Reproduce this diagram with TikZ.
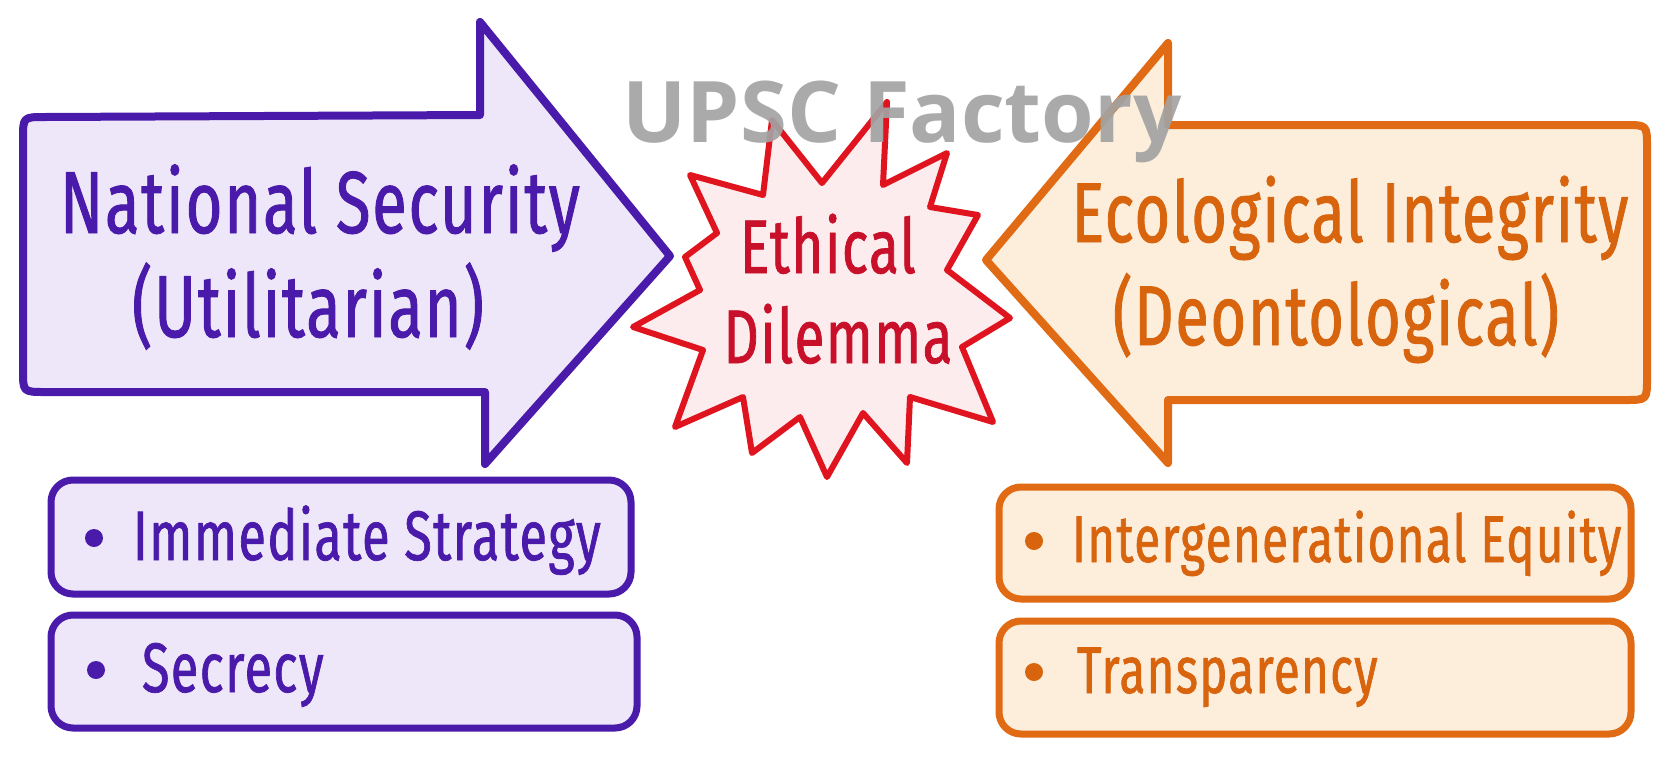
\documentclass[tikz,border=0pt]{standalone}
\usepackage{fontspec}
\newfontfamily\hand{Fira Sans}[FakeStretch=0.72, FakeBold=1.0, LetterSpace=2]
\newfontfamily\wmfont{Open Sans}
\definecolor{pstroke}{HTML}{4A1AAA}
\definecolor{pfill}{HTML}{EEE7FA}
\definecolor{ostroke}{HTML}{E06B14}
\definecolor{ofill}{HTML}{FDEEDC}
\definecolor{otext}{HTML}{D8640E}
\definecolor{rstroke}{HTML}{E0141E}
\definecolor{rfill}{HTML}{FCECEE}
\definecolor{rtext}{HTML}{C8102A}
\definecolor{wmgray}{HTML}{A3A3A3}
\begin{document}
\begin{tikzpicture}[x=1pt,y=-1pt,
  every node/.style={inner sep=0pt, outer sep=0pt},
  parrow/.style={draw=pstroke, fill=pfill, line width=8pt, line join=round},
  oarrow/.style={draw=ostroke, fill=ofill, line width=8pt, line join=round},
  starshape/.style={draw=rstroke, fill=rfill, line width=6pt, line join=round},
  pbox/.style={draw=pstroke, fill=pfill, line width=7pt, rounded corners=22pt},
  obox/.style={draw=ostroke, fill=ofill, line width=7pt, rounded corners=22pt},
  ptitle/.style={font=\hand\fontsize{88}{88}\selectfont, text=pstroke, anchor=base},
  otitle/.style={font=\hand\fontsize{85}{85}\selectfont, text=otext, anchor=base},
  rtitle/.style={font=\hand\fontsize{76}{76}\selectfont, text=rtext, anchor=base},
  pitem/.style={font=\hand\fontsize{70}{70}\selectfont, text=pstroke, anchor=base west},
  oitem/.style={font=\hand\fontsize{66}{66}\selectfont, text=otext, anchor=base west},
  pdot/.style={circle, fill=pstroke, minimum size=18pt},
  odot/.style={circle, fill=otext, minimum size=18pt},
  watermark/.style={font=\wmfont\bfseries\fontsize{85}{85}\selectfont, text=wmgray, anchor=base, opacity=0.92}
]
\useasboundingbox[fill=white] (0,0) rectangle (1672,756);

% left arrow
\draw[parrow] (45,117) -- (480,115) -- (480,22) -- (670,256) -- (485,464) -- (485,392)
  -- (45,392) .. controls (23,392) .. (23,370) -- (23,139) .. controls (23,117) .. (45,117) -- cycle;
% right arrow
\draw[oarrow] (1168,125) -- (1625,125) .. controls (1647,125) .. (1647,147) -- (1647,378)
  .. controls (1647,400) .. (1625,400) -- (1168,400) -- (1168,463) -- (986,260) -- (1168,43) -- cycle;

% star
\draw[starshape] (690,175) -- (763,195) -- (772,120) -- (822,183) -- (887,102) -- (883,185)
  -- (947,153) -- (930,207) -- (978,215) -- (947,270) -- (1010,318) -- (962,347)
  -- (993,422) -- (910,397) -- (907,463) -- (863,413) -- (827,477) -- (800,417)
  -- (752,453) -- (743,397) -- (675,427) -- (703,350) -- (633,327) -- (700,290)
  -- (685,257) -- (717,233) -- cycle;

% titles
\node[ptitle] (ns) at (320,233) {National Security};
\node[ptitle] (ut) at (308,337) {(Utilitarian)};
\node[otitle] (ei) at (1350,242) {Ecological Integrity};
\node[otitle] (de) at (1336,345) {(Deontological)};
\node[rtitle] (eth) at (828,273) {Ethical};
\node[rtitle] (dil) at (838,363) {Dilemma};

% boxes
\node[pbox, minimum width=580pt, minimum height=114pt] (lb1) at (341,537) {};
\node[pbox, minimum width=586pt, minimum height=113pt] (lb2) at (344,671.5) {};
\node[obox, minimum width=632pt, minimum height=112pt] (rb1) at (1315,543) {};
\node[obox, minimum width=632pt, minimum height=113pt] (rb2) at (1315,677.5) {};

\node[pdot] (d1) at (94,538) {};
\node[pitem] (t1) at (133,560) {Immediate Strategy};
\node[pdot] (d2) at (96,670) {};
\node[pitem] (t2) at (142,692) {Secrecy};
\node[odot] (d3) at (1034,541) {};
\node[oitem] (t3) at (1072,562) {Intergenerational Equity};
\node[odot] (d4) at (1034,672) {};
\node[oitem] (t4) at (1077,693) {Transparency};

% watermark
\node[watermark] (wm) at (902,142) {UPSC Factory};
\end{tikzpicture}
\end{document}
